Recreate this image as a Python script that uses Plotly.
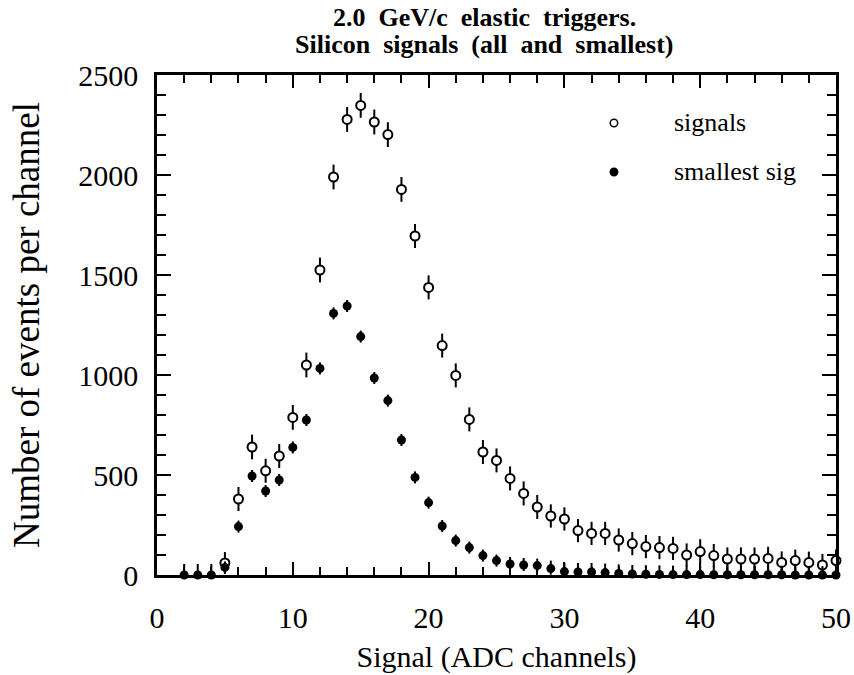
import plotly.graph_objects as go

# ADC channel bins
chan_all = list(range(5, 51))
chan_small = list(range(2, 51))

# all silicon signals (events per channel)
signals = [60, 380, 640, 521, 595, 788, 1050, 1525, 1990, 2278,
           2348, 2265, 2202, 1928, 1695, 1438, 1147, 998, 778, 615,
           573, 483, 408, 340, 295, 280, 222, 208, 208, 175,
           157, 142, 137, 133, 100, 117, 97, 80, 80, 80,
           83, 63, 72, 62, 50, 72]
signals_err = [55, 60, 62, 60, 60, 62, 62, 62, 62, 62,
               62, 62, 62, 62, 60, 60, 60, 60, 60, 60,
               60, 60, 60, 60, 58, 58, 58, 58, 58, 58,
               58, 58, 58, 58, 58, 62, 58, 58, 58, 58,
               58, 55, 55, 55, 55, 55]

# smallest signal per event
smallest = [0, 0, 0, 38, 242, 495, 420, 475, 638, 775,
            1033, 1308, 1345, 1192, 985, 872, 675, 488, 362, 245,
            172, 137, 97, 72, 55, 50, 47, 32, 17, 15,
            15, 12, 8, 5, 4, 3, 2, 2, 2, 1,
            1, 1, 1, 1, 1, 0, 0, 0, 0]
smallest_err_up = [55, 55, 55, 30, 30, 30, 30, 30, 30, 30,
                   30, 30, 30, 30, 30, 30, 30, 30, 30, 30,
                   30, 30, 30, 30, 35, 35, 35, 40, 45, 45,
                   45, 45, 45, 45, 45, 45, 45, 45, 45, 45,
                   45, 45, 45, 45, 45, 45, 45, 45, 45]
smallest_err_down = [min(v, 30) for v in smallest]

x_ticks = [0, 10, 20, 30, 40, 50]
y_ticks = [0, 500, 1000, 1500, 2000, 2500]

SERIF = "Liberation Serif"
BLACK = "#000000"

fig = go.Figure()

fig.add_trace(go.Scatter(
    x=chan_all, y=signals, mode="markers", name="signals",
    marker=dict(symbol="circle", size=9, color="white",
                line=dict(color=BLACK, width=2)),
    error_y=dict(type="data", array=signals_err, color=BLACK,
                 thickness=2, width=0),
    cliponaxis=False, showlegend=False,
))

fig.add_trace(go.Scatter(
    x=chan_small, y=smallest, mode="markers", name="smallest sig",
    marker=dict(symbol="circle", size=9, color=BLACK,
                line=dict(width=0)),
    error_y=dict(type="data", symmetric=False, array=smallest_err_up,
                 arrayminus=smallest_err_down, color=BLACK,
                 thickness=2, width=0),
    cliponaxis=False, showlegend=False,
))

axis_common = dict(
    showgrid=False, zeroline=False, automargin=False,
    showline=True, linecolor=BLACK, linewidth=2.5, mirror="ticks",
    ticks="inside", tickcolor=BLACK, tickwidth=2,
    tickfont=dict(family=SERIF, size=30, color=BLACK),
)

fig.update_xaxes(
    **axis_common, range=[0, 50], tickvals=x_ticks, ticklen=13,
    ticklabelstandoff=14,
    minor=dict(dtick=2, tick0=0, ticks="inside", ticklen=8,
               tickwidth=1.5, tickcolor=BLACK, showgrid=False),
    title=dict(text="Signal (ADC channels)",
               font=dict(family=SERIF, size=30, color=BLACK), standoff=14),
)
fig.update_yaxes(
    **axis_common, range=[0, 2500], tickvals=y_ticks, ticklen=14,
    ticklabelstandoff=10,
    minor=dict(dtick=100, tick0=0, ticks="inside", ticklen=9,
               tickwidth=1.5, tickcolor=BLACK, showgrid=False),
    title=dict(text="Number of events per channel",
               font=dict(family=SERIF, size=37, color=BLACK), standoff=28),
)

# two-line bold heading, words widely spaced
gap = "\u00a0" * 2
title_lines = [gap.join(["2.0", "GeV/c", "elastic", "triggers."]),
               gap.join(["Silicon", "signals", "(all", "and", "smallest)"])]
for text, yp in zip(title_lines, [1.114, 1.06]):
    fig.add_annotation(
        text=text, xref="paper", yref="paper", x=0.483, y=yp,
        xanchor="center", yanchor="middle", showarrow=False,
        font=dict(family=SERIF, size=26, color=BLACK, weight="bold"),
    )

# key: symbol + label
key_items = [("signals", 0.904, "white"), ("smallest sig", 0.806, BLACK)]
for label, yp, fill in key_items:
    fig.add_shape(
        type="circle", xref="paper", yref="paper",
        x0=0.673 - 0.0055, x1=0.673 + 0.0055,
        y0=yp - 0.0075, y1=yp + 0.0075,
        fillcolor=fill, line=dict(color=BLACK, width=1.5),
    )
    fig.add_annotation(
        text=label, xref="paper", yref="paper", x=0.758, y=yp,
        xanchor="left", yanchor="middle", showarrow=False,
        font=dict(family=SERIF, size=26, color=BLACK),
    )

fig.update_layout(
    width=854, height=675,
    margin=dict(l=157, r=18, t=75, b=100),
    paper_bgcolor="white", plot_bgcolor="white",
    showlegend=False,
)

fig.write_html("out.html")
